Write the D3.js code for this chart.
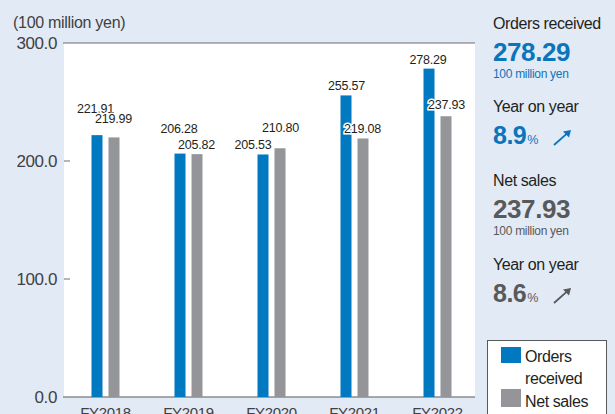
<!DOCTYPE html>
<html>
<head>
  <meta charset="utf-8" />
  <script src="https://d3js.org/d3.v7.min.js"></script>
  <style>
    body { margin: 0; background: #e2eaf6; }
    svg { display: block; font-family: "Liberation Sans", Arial, sans-serif; }
  </style>
</head>
<body>
  <svg id="chart" width="615" height="414"></svg>
  <script>
    // chart data
    const years = ["FY2018", "FY2019", "FY2020", "FY2021", "FY2022"];
    const orders = [221.91, 206.28, 205.53, 255.57, 278.29];
    const sales = [219.99, 205.82, 210.80, 219.08, 237.93];
    const yTicks = [0, 100, 200, 300];

    const svg = d3.select("#chart");
    const blue = "#0079c1", gray = "#939598";
    const plot = { left: 64, right: 475, top: 43, bottom: 397 };

    svg.append("rect").attr("width", 615).attr("height", 414).attr("fill", "#e2eaf6");

    const x = d3.scaleBand().domain(years).range([64, 479]);
    const y = d3.scaleLinear().domain([0, 300]).range([plot.bottom, plot.top]);

    // white plot area
    svg.append("rect")
      .attr("x", plot.left).attr("y", plot.top)
      .attr("width", plot.right - plot.left).attr("height", plot.bottom - plot.top)
      .attr("fill", "#fff");

    svg.append("text").attr("x", 13).attr("y", 28)
      .attr("font-size", 16).attr("fill", "#414042").attr("letter-spacing", -0.3)
      .text("(100 million yen)");

    // y axis: ticks pointing into the plot, labels on the left
    const yAxis = svg.append("g");
    yAxis.selectAll("line.tick")
      .data(yTicks.filter(d => d > 0 && d < 300))
      .join("line")
      .attr("x1", plot.left).attr("x2", plot.left + 6)
      .attr("y1", d => y(d)).attr("y2", d => y(d))
      .attr("stroke", "#6d6e71").attr("stroke-width", 1);
    yAxis.selectAll("text")
      .data(yTicks)
      .join("text")
      .attr("x", 57).attr("y", d => y(d))
      .attr("dy", "0.36em")
      .attr("text-anchor", "end")
      .attr("font-size", 17).attr("fill", "#414042").attr("letter-spacing", -0.4)
      .text(d => d3.format(".1f")(d));

    // top and baseline lines
    [300, 0].forEach(v => {
      svg.append("line")
        .attr("x1", 63).attr("x2", plot.right)
        .attr("y1", y(v)).attr("y2", y(v))
        .attr("stroke", v === 0 ? "#58595b" : "#6d6e71").attr("stroke-width", 1.2);
    });

    const barW = 11;
    const cx = d => x(d) + x.bandwidth() / 2;

    const groups = svg.append("g").selectAll("g")
      .data(years.map((yr, i) => ({ yr, i, o: orders[i], s: sales[i] })))
      .join("g");

    groups.append("rect")
      .attr("x", d => cx(d.yr) - 8.5 - barW / 2)
      .attr("y", d => y(d.o))
      .attr("width", barW)
      .attr("height", d => y(0) - y(d.o))
      .attr("fill", blue);

    groups.append("rect")
      .attr("x", d => cx(d.yr) + 8.5 - barW / 2)
      .attr("y", d => y(d.s))
      .attr("width", barW)
      .attr("height", d => y(0) - y(d.s))
      .attr("fill", gray);

    // label nudges so close pairs do not collide
    const blueLift = [17, 16, 0, 0, 0];
    const grayLift = [9, 0, 11, 0, 2];
    const blueDx = [-1.5, -1, -10, 0.5, -1];
    const grayDx = [-0.5, -0.5, 0.5, -0.5, 0.5];

    groups.append("text")
      .attr("x", d => cx(d.yr) - 8.5 + blueDx[d.i])
      .attr("y", d => y(d.o) - 5 - blueLift[d.i])
      .attr("text-anchor", "middle")
      .attr("font-size", 12.5).attr("fill", "#231f20").attr("letter-spacing", -0.2)
      .attr("stroke", "#fff").attr("stroke-width", 3).attr("paint-order", "stroke")
      .text(d => d3.format(".2f")(d.o));

    groups.append("text")
      .attr("x", d => cx(d.yr) + 8.5 + grayDx[d.i])
      .attr("y", d => y(d.s) - 5 - grayLift[d.i])
      .attr("text-anchor", "middle")
      .attr("font-size", 12.5).attr("fill", "#231f20").attr("letter-spacing", -0.2)
      .attr("stroke", "#fff").attr("stroke-width", 3).attr("paint-order", "stroke")
      .text(d => d3.format(".2f")(d.s));

    // x labels (cut off at the bottom edge)
    svg.append("g").selectAll("text")
      .data(years)
      .join("text")
      .attr("x", d => cx(d)).attr("y", 418)
      .attr("text-anchor", "middle")
      .attr("font-size", 15).attr("fill", "#414042").attr("letter-spacing", -0.3)
      .text(d => d);

    // right-hand summary panel
    const panel = svg.append("g").attr("transform", "translate(493,0)");
    const dark = "#231f20", valBlue = "#0a75bb", valGray = "#58595b";

    function arrow(g, x1, y1, x2, y2, color) {
      g.append("line").attr("x1", x1).attr("y1", y1).attr("x2", x2 - 3).attr("y2", y2 + 2.6)
        .attr("stroke", color).attr("stroke-width", 1.8);
      g.append("path")
        .attr("d", `M${x2},${y2} L${x2 - 8},${y2 + 1.5} L${x2 - 2},${y2 + 7.5} Z`)
        .attr("fill", color);
    }

    function block(top, title, value, unit, color) {
      panel.append("text").attr("y", top).attr("font-size", 16).attr("fill", dark)
        .attr("letter-spacing", -0.4).text(title);
      panel.append("text").attr("y", top + 32).attr("font-size", 26).attr("font-weight", "bold")
        .attr("fill", color).attr("letter-spacing", -0.4).text(value);
      panel.append("text").attr("y", top + 48.5).attr("font-size", 12).attr("fill", color)
        .attr("letter-spacing", -0.3).text(unit);
    }

    function yoy(top, pct, color) {
      panel.append("text").attr("y", top).attr("font-size", 16).attr("fill", dark)
        .attr("letter-spacing", -0.4).text("Year on year");
      const t = panel.append("text").attr("y", top + 32).attr("fill", color).attr("font-weight", "bold");
      t.append("tspan").attr("font-size", 25).attr("letter-spacing", -0.5).text(pct);
      t.append("tspan").attr("font-size", 12.5).attr("font-weight", "normal").attr("dx", 1).text("%");
      arrow(panel, 61, top + 33, 78, top + 18, color);
    }

    block(29, "Orders received", "278.29", "100 million yen", valBlue);
    yoy(112, "8.9", valBlue);
    block(186, "Net sales", "237.93", "100 million yen", valGray);
    yoy(270, "8.6", valGray);

    // legend
    const legend = svg.append("g");
    legend.append("rect").attr("x", 487.5).attr("y", 340.5).attr("width", 119).attr("height", 80)
      .attr("fill", "#fff").attr("stroke", "#58595b").attr("stroke-width", 1);
    legend.append("rect").attr("x", 501).attr("y", 347).attr("width", 20).attr("height", 16).attr("fill", blue);
    legend.append("rect").attr("x", 501).attr("y", 389).attr("width", 20).attr("height", 18).attr("fill", gray);
    [["Orders", 362], ["received", 384], ["Net sales", 407]].forEach(([t, yy]) => {
      legend.append("text").attr("x", 525).attr("y", yy).attr("font-size", 16)
        .attr("fill", dark).attr("letter-spacing", -0.4).text(t);
    });
  </script>
</body>
</html>
